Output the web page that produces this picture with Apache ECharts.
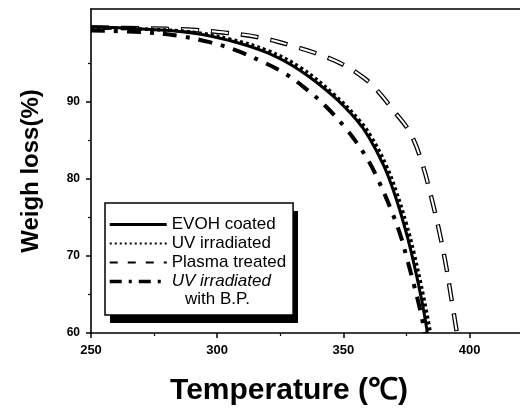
<!DOCTYPE html>
<html>
<head>
<meta charset="utf-8">
<title>TGA weight loss</title>
<script src="https://cdn.jsdelivr.net/npm/echarts@6/dist/echarts.min.js"></script>
<style>
  html, body { margin: 0; padding: 0; background: #fff; }
  #chart { width: 520px; height: 409px; }
</style>
</head>
<body>
<div id="chart"></div>
<script>
// Thermogravimetric curves (temperature in degC, remaining weight in %)
const temperatureEVOH = [250, 270, 290, 305, 320, 333, 346, 355, 360, 366, 370, 374, 377, 381, 383.3];
const weightEVOH      = [99.7, 99.4, 98.9, 97.9, 96.3, 94.0, 90.7, 87.7, 85.45, 81.7, 78.3, 74.1, 70.35, 64.35, 60.0];

const temperatureUV = [250, 270, 290, 305, 320, 333, 346, 356, 361, 367, 371, 375, 378, 382, 384.5];
const weightUV      = [99.6, 99.4, 99.0, 98.1, 96.6, 94.4, 91.0, 87.7, 85.45, 81.7, 78.3, 74.1, 70.35, 64.35, 60.0];

const temperaturePlasma = [250, 270, 290, 304, 317, 330, 343, 351, 358, 363, 370, 376.7, 381.4, 384.7, 388, 390.7, 392.5, 395];
const weightPlasma      = [99.6, 99.5, 99.3, 98.9, 98.3, 97.2, 95.8, 94.6, 93.1, 91.6, 88.8, 85.8, 81.8, 77.8, 73.2, 68.7, 65.1, 60.0];

const temperatureBP = [250, 270, 285, 297, 307, 317, 327, 335, 343, 350, 355, 360, 364, 368.5, 372.5, 375, 378, 380.5, 382.3];
const weightBP      = [99.2, 99.0, 98.5, 97.7, 96.7, 95.3, 93.6, 91.7, 89.4, 86.9, 84.8, 82.3, 79.7, 76.3, 72.8, 69.9, 66.2, 62.9, 60.0];

const seriesNames = ['EVOH coated', 'UV irradiated', 'Plasma treated', 'UV irradiated with B.P.'];

const xTicks = [250, 300, 350, 400];
const xMinorTicks = [275, 325, 375];
const yTicks = [60, 70, 80, 90];
const yMinorTicks = [65, 75, 85, 95];

function pairs(xs, ys) {
  return xs.map((x, i) => [x, ys[i]]);
}

const FONT = 'Liberation Sans, Arial, sans-serif';
const chart = echarts.init(document.getElementById('chart'), null, { renderer: 'canvas' });

const axisLine = { show: true, lineStyle: { color: '#000', width: 1.6 } };

const lineBase = {
  type: 'line',
  symbol: 'none',
  showSymbol: false,
  smooth: 0.4,
  animation: false,
  xAxisIndex: 0,
  yAxisIndex: 0
};

chart.setOption({
  backgroundColor: '#fff',
  animation: false,
  grid: {
    left: 91, right: 0, top: 9, bottom: 76,
    containLabel: false,
    outerBoundsMode: 'none'
  },
  xAxis: [
    {
      type: 'value', min: 250, max: 420, interval: 50,
      position: 'bottom',
      axisLine: axisLine,
      axisTick: { show: true, length: 5, inside: false, customValues: xTicks, lineStyle: { color: '#000', width: 1.5 } },
      axisLabel: {
        customValues: xTicks, margin: 11,
        color: '#000', fontFamily: FONT, fontWeight: 'bold', fontSize: 13
      },
      splitLine: { show: false },
      name: 'Temperature (\u2103)',
      nameLocation: 'middle',
      nameGap: 43,
      nameTextStyle: { color: '#000', fontFamily: FONT, fontWeight: 'bold', fontSize: 30, padding: [0, 33, 0, 0] }
    },
    {
      // frame line along the top of the plot
      type: 'value', min: 250, max: 420, position: 'top',
      axisLine: axisLine,
      axisTick: { show: false }, axisLabel: { show: false }, splitLine: { show: false }
    },
    {
      // short minor ticks on the temperature axis
      type: 'value', min: 250, max: 420, position: 'bottom',
      axisLine: { show: false },
      axisTick: { show: true, length: 3, customValues: xMinorTicks, lineStyle: { color: '#000', width: 1.2 } },
      axisLabel: { show: false }, splitLine: { show: false }
    }
  ],
  yAxis: [
    {
      type: 'value', min: 60, max: 102, interval: 10,
      position: 'left',
      axisLine: axisLine,
      axisTick: { show: true, length: 5, inside: false, customValues: yTicks, lineStyle: { color: '#000', width: 1.5 } },
      axisLabel: {
        customValues: yTicks, margin: 11,
        color: '#000', fontFamily: FONT, fontWeight: 'bold', fontSize: 12
      },
      splitLine: { show: false },
      name: 'Weigh loss(%)',
      nameLocation: 'middle',
      nameGap: 48,
      nameTextStyle: { color: '#000', fontFamily: FONT, fontWeight: 'bold', fontSize: 24 }
    },
    {
      type: 'value', min: 60, max: 102, position: 'left',
      axisLine: { show: false },
      axisTick: { show: true, length: 3, customValues: yMinorTicks, lineStyle: { color: '#000', width: 1.2 } },
      axisLabel: { show: false }, splitLine: { show: false }
    }
  ],
  legend: {
    orient: 'vertical',
    left: 105, top: 203,
    z: 10,
    selectedMode: false,
    backgroundColor: '#fff',
    borderColor: '#000',
    borderWidth: 1.5,
    borderRadius: 0,
    padding: [12, 7, 24, 3],
    itemGap: 0,
    itemWidth: 57,
    itemHeight: 14,
    textStyle: { color: '#000', fontFamily: FONT, fontSize: 17, lineHeight: 19 },
    itemStyle: { opacity: 0 },
    formatter: function (name) {
      return name === seriesNames[3] ? 'UV irradiated' : name;
    },
    data: [
      { name: seriesNames[0], lineStyle: { color: '#000', width: 3, type: 'solid' } },
      { name: seriesNames[1], lineStyle: { color: '#000', width: 2, type: [2, 3] } },
      { name: seriesNames[2], lineStyle: { color: '#000', width: 2, type: [8, 10] } },
      { name: seriesNames[3], lineStyle: { color: '#000', width: 3.5, type: [12, 7, 3, 7] },
        textStyle: { fontStyle: 'italic' } }
    ]
  },
  graphic: [
    {
      // drop shadow behind the legend box
      type: 'rect', z: 5,
      shape: { x: 110, y: 211, width: 188, height: 112 },
      style: { fill: '#000' }
    },
    {
      type: 'text', left: 185, top: 291, z: 100,
      style: { text: 'with B.P.', fill: '#000', font: '17px ' + FONT }
    }
  ],
  series: [
    Object.assign({}, lineBase, {
      name: seriesNames[2],
      data: pairs(temperaturePlasma, weightPlasma),
      lineStyle: { color: '#000', width: 4.5, type: [18, 12] },
      z: 2
    }),
    Object.assign({}, lineBase, {
      name: 'plasma-core',
      data: pairs(temperaturePlasma, weightPlasma),
      lineStyle: { color: '#fff', width: 2, type: [16, 14], dashOffset: -1 },
      z: 2
    }),
    Object.assign({}, lineBase, {
      name: seriesNames[3],
      data: pairs(temperatureBP, weightBP),
      lineStyle: { color: '#000', width: 4, type: [14, 9, 4, 9] },
      z: 3
    }),
    Object.assign({}, lineBase, {
      name: seriesNames[1],
      data: pairs(temperatureUV, weightUV),
      lineStyle: { color: '#000', width: 3.5, type: [3, 3] },
      z: 3
    }),
    Object.assign({}, lineBase, {
      name: seriesNames[0],
      data: pairs(temperatureEVOH, weightEVOH),
      lineStyle: { color: '#000', width: 3, type: 'solid' },
      z: 4
    })
  ]
});
</script>
</body>
</html>
